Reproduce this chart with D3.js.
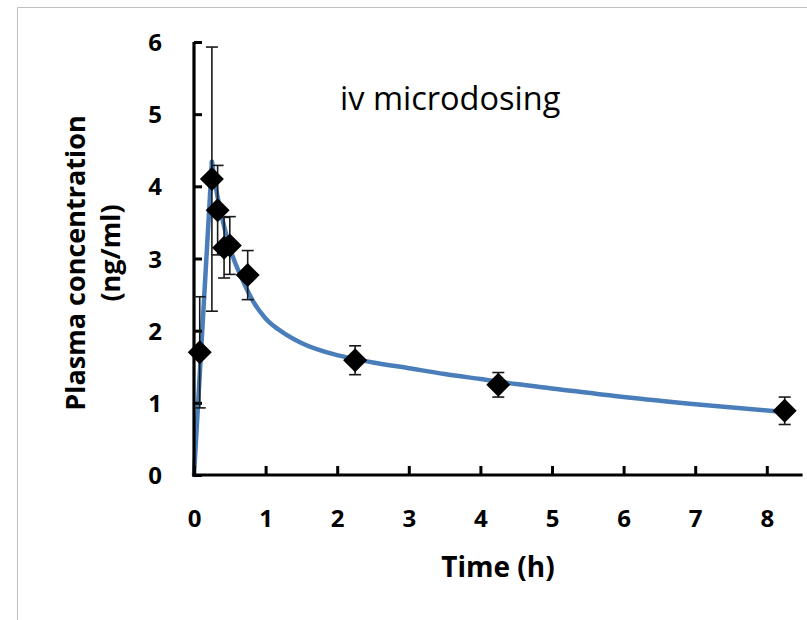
<!DOCTYPE html>
<html>
<head>
<meta charset="utf-8">
<script src="https://cdn.jsdelivr.net/npm/d3@7"></script>
<style>
  html, body { margin: 0; padding: 0; background: #fff; }
  svg { display: block; }
  text { font-family: "Open Sans", Lato, sans-serif; fill: #000; }
</style>
</head>
<body>
<svg id="chart" width="807" height="620"></svg>
<script>
// Observed plasma concentrations (mean ± SD) after iv microdose
const sampleTimes = [0.08, 0.25, 0.33, 0.42, 0.50, 0.75, 2.25, 4.25, 8.25];
const meanConc    = [1.70, 4.10, 3.67, 3.15, 3.18, 2.77, 1.59, 1.25, 0.89];
const sdConc      = [0.77, 1.83, 0.62, 0.42, 0.40, 0.34, 0.20, 0.17, 0.19];

// Model-fitted concentration profile
const fitTimes = [0, 0.25, 0.33, 0.42, 0.50, 0.67, 0.83, 1.00, 1.25, 1.50, 2.00, 2.50, 3.00, 3.50, 4.00, 4.50, 5.00, 6.00, 7.00, 8.16];
const fitConc  = [0, 4.34, 3.85, 3.45, 3.15, 2.72, 2.40, 2.17, 1.97, 1.83, 1.66, 1.56, 1.48, 1.40, 1.33, 1.26, 1.20, 1.08, 0.98, 0.88];

// Axis ticks
const xTicks = [0, 1, 2, 3, 4, 5, 6, 7, 8];
const yTicks = [0, 1, 2, 3, 4, 5, 6];

const svg = d3.select("#chart");

// outer frame
svg.append("path")
  .attr("d", "M17.5,625 V7.5 H812")
  .attr("fill", "none")
  .attr("stroke", "#bfbfbf")
  .attr("stroke-width", 1);

const x = d3.scaleLinear().domain([0, 8.5]).range([194, 802.6]);
const y = d3.scaleLinear().domain([0, 6]).range([475, 42]);

// fitted curve: linear rise to the peak, smooth decline afterwards
const fit = fitTimes.map((t, i) => ({ t, c: fitConc[i] }));
const peakIdx = 1;
const riseLine = d3.line().x(d => x(d.t)).y(d => y(d.c)).curve(d3.curveLinear);
const fallLine = d3.line().x(d => x(d.t)).y(d => y(d.c)).curve(d3.curveMonotoneX);
const curveG = svg.append("g")
  .attr("fill", "none")
  .attr("stroke", "#4a7ebb")
  .attr("stroke-width", 4.5)
  .attr("stroke-linejoin", "round")
  .attr("stroke-linecap", "round");
curveG.append("path").attr("d", riseLine(fit.slice(0, peakIdx + 1)));
curveG.append("path").attr("d", fallLine(fit.slice(peakIdx)));

// axes
const xAxis = d3.axisBottom(x).tickValues(xTicks).tickSize(-9).tickSizeOuter(0)
  .tickFormat(d3.format("d"));
const yAxis = d3.axisLeft(y).tickValues(yTicks).tickSize(-8).tickSizeOuter(0).tickPadding(32)
  .tickFormat(d3.format("d"));

const gx = svg.append("g").attr("transform", `translate(0,${y(0)})`).call(xAxis);
const gy = svg.append("g").attr("transform", `translate(${x(0)},0)`).call(yAxis);

[gx, gy].forEach(g => {
  g.select(".domain").attr("stroke", "#000").attr("stroke-width", 3.2);
  g.selectAll(".tick line").attr("stroke", "#000").attr("stroke-width", 3);
  g.selectAll(".tick text")
    .attr("font-family", "'Open Sans', sans-serif")
    .attr("font-weight", "bold")
    .attr("font-size", 24)
    .attr("fill", "#000");
});
gx.select(".domain").attr("d", `M${x(0) - 1.6},0H${x(8.5)}`);
gy.select(".domain").attr("d", `M0,${y(0) + 1.6}V${y(6)}`);
gx.selectAll(".tick text").attr("dy", 0).attr("y", 52);
gy.selectAll(".tick text").attr("dy", "0.36em");

// error bars
const obs = sampleTimes.map((t, i) => ({ t, c: meanConc[i], sd: sdConc[i] }));
const eb = svg.append("g").attr("stroke", "#1a1a1a").attr("stroke-width", 1.6).attr("fill", "none");
const capW = 6;
obs.forEach(d => {
  const cx = x(d.t);
  eb.append("line").attr("x1", cx).attr("x2", cx).attr("y1", y(d.c + d.sd)).attr("y2", y(d.c - d.sd));
  eb.append("line").attr("x1", cx - capW).attr("x2", cx + capW).attr("y1", y(d.c + d.sd)).attr("y2", y(d.c + d.sd));
  eb.append("line").attr("x1", cx - capW).attr("x2", cx + capW).attr("y1", y(d.c - d.sd)).attr("y2", y(d.c - d.sd));
});

// diamond markers
const r = 12;
svg.append("g").selectAll("path")
  .data(obs)
  .join("path")
  .attr("d", d => {
    const cx = x(d.t), cy = y(d.c);
    return `M${cx},${cy - r}L${cx + r},${cy}L${cx},${cy + r}L${cx - r},${cy}Z`;
  })
  .attr("fill", "#000");

// chart title
svg.append("text")
  .attr("x", 340).attr("y", 110)
  .attr("font-size", 32.5)
  .text("iv microdosing");

// axis titles
svg.append("text")
  .attr("x", 498).attr("y", 577)
  .attr("text-anchor", "middle")
  .attr("font-size", 28)
  .attr("font-weight", "bold")
  .text("Time (h)");

const yt = svg.append("text")
  .attr("transform", "translate(85,263) rotate(-90)")
  .attr("font-size", 27)
  .attr("font-weight", "bold");
yt.append("tspan").attr("x", 0).attr("y", 0).attr("text-anchor", "middle").text("Plasma concentration");
yt.append("tspan").attr("x", 10).attr("y", 35).attr("text-anchor", "middle").text("(ng/ml)");
</script>
</body>
</html>
